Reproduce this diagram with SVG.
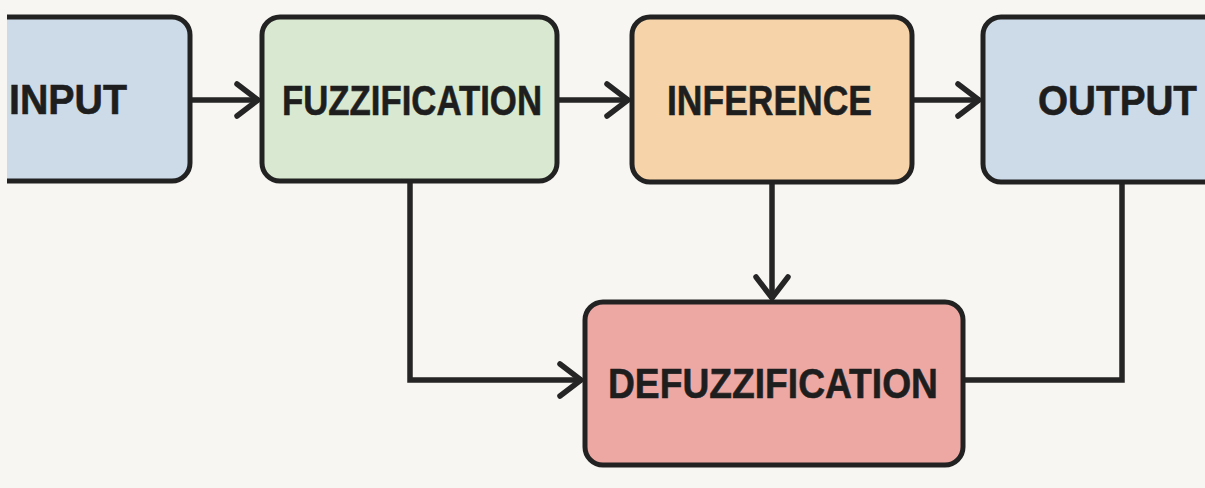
<svg xmlns="http://www.w3.org/2000/svg" width="1205" height="488" viewBox="0 0 1205 488">
<style>
.box{stroke:#222;stroke-width:5}
.lbl{font-family:"Liberation Sans",Arial,sans-serif;font-weight:bold;font-size:42px;fill:#1e1e1e;stroke:#1e1e1e;stroke-width:0.6}
.ln{fill:none;stroke:#252525;stroke-width:5.5;stroke-linejoin:miter}
</style>
<defs>
<marker id="chev" markerUnits="userSpaceOnUse" viewBox="-30 -22 34 44" refX="0" refY="0" markerWidth="34" markerHeight="44" orient="auto">
<path d="M-22,-16 L-1,0 L-22,16" fill="none" stroke="#252525" stroke-width="5.5" stroke-linecap="round" stroke-linejoin="miter"/>
</marker>
</defs>
<rect width="1205" height="488" fill="#f8f6f2"/>
<g id="connectors">
<line class="ln" x1="190" y1="100" x2="259" y2="100" marker-end="url(#chev)"/>
<line class="ln" x1="557" y1="100" x2="629" y2="100" marker-end="url(#chev)"/>
<line class="ln" x1="912" y1="100" x2="980" y2="100" marker-end="url(#chev)"/>
<path class="ln" d="M410,181 V380 H582" marker-end="url(#chev)"/>
<line class="ln" x1="772" y1="182" x2="772" y2="299" marker-end="url(#chev)"/>
<path class="ln" d="M963,380 H1122 V182"/>
</g>
<g id="input">
<rect class="box" x="-20" y="17" width="210" height="164" rx="18" fill="#cddbe8"/>
<rect x="0" y="0" width="7" height="488" fill="#f8f6f2"/>
<text class="lbl" x="9" y="114" textLength="118" lengthAdjust="spacingAndGlyphs">INPUT</text>
</g>
<g id="fuzzification">
<rect class="box" x="262" y="17" width="295" height="164" rx="18" fill="#d9e8d0"/>
<text class="lbl" x="282" y="115" textLength="260" lengthAdjust="spacingAndGlyphs">FUZZIFICATION</text>
</g>
<g id="inference">
<rect class="box" x="632" y="17" width="280" height="165" rx="18" fill="#f6d3a9"/>
<text class="lbl" x="667" y="115" textLength="205" lengthAdjust="spacingAndGlyphs">INFERENCE</text>
</g>
<g id="output">
<rect class="box" x="983" y="17" width="260" height="165" rx="18" fill="#cddbe8"/>
<text class="lbl" x="1038" y="115" textLength="159" lengthAdjust="spacingAndGlyphs">OUTPUT</text>
</g>
<g id="defuzzification">
<rect class="box" x="585" y="302" width="378" height="163" rx="18" fill="#eda8a4"/>
<text class="lbl" x="608" y="398" textLength="330" lengthAdjust="spacingAndGlyphs">DEFUZZIFICATION</text>
</g>
</svg>
